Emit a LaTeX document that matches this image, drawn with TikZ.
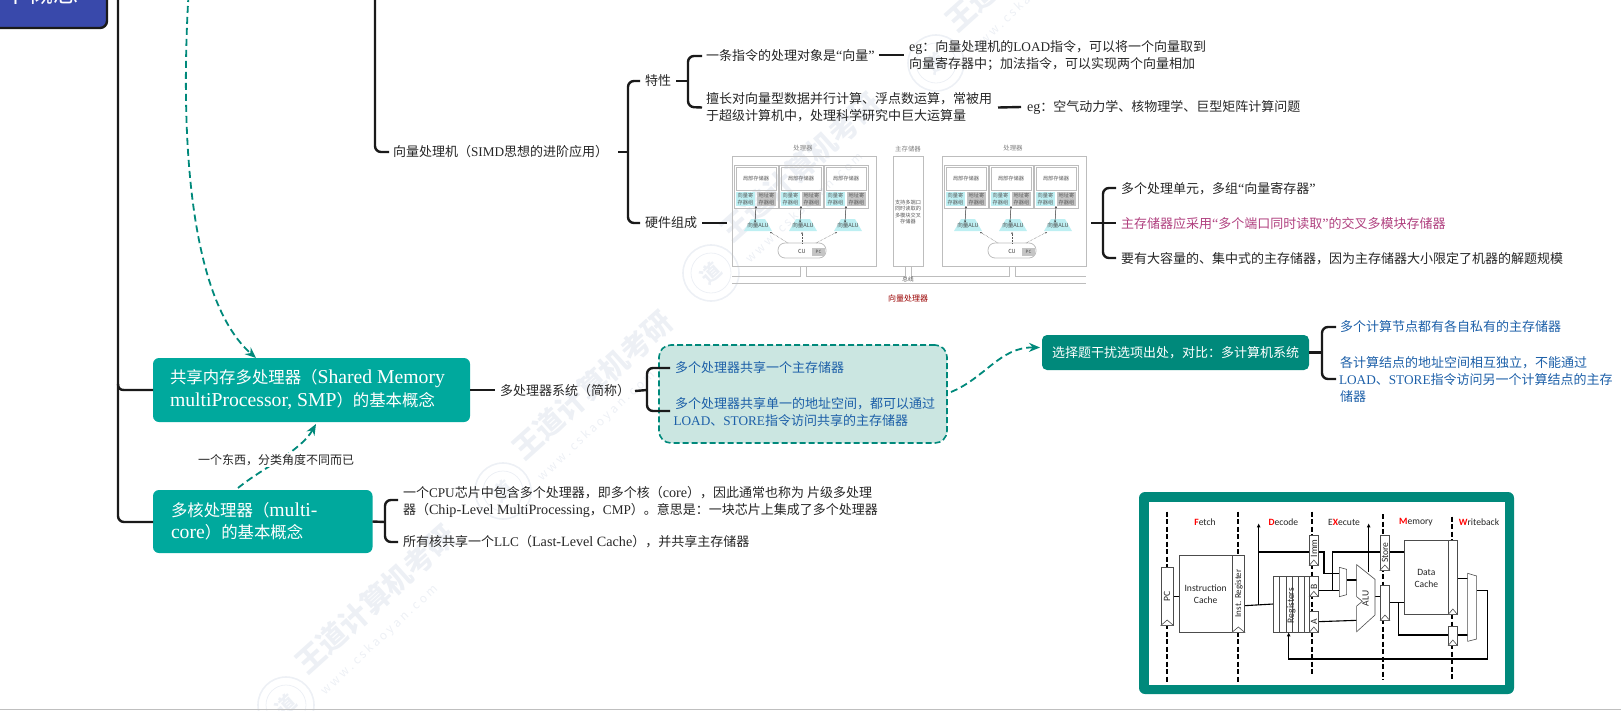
\documentclass[tikz,border=0pt]{standalone}
\usepackage{fontspec}
\usetikzlibrary{arrows.meta,calc}
\setmainfont{Noto Sans CJK SC}
\newfontfamily\latf[Scale=1.09]{Liberation Serif}
\newfontfamily\latbig[Scale=1.2]{Liberation Serif}
\newfontfamily\latcap[Scale=1.02]{Liberation Serif}
\newfontfamily\figf{Carlito}
\newcommand{\lat}[1]{{\latf #1}}
\newcommand{\latb}[1]{{\latbig #1}}
\newcommand{\latc}[1]{{\latcap #1}}
\definecolor{linek}{HTML}{1A1A1A}
\definecolor{tealA}{HTML}{00A99D}
\definecolor{tealB}{HTML}{00897B}
\definecolor{tealL}{HTML}{CBE6E1}
\definecolor{blueT}{HTML}{1C5FA8}
\definecolor{pinkT}{HTML}{B0407F}
\definecolor{navy}{HTML}{3949AB}
\definecolor{wm}{HTML}{EDF0F5}
\definecolor{cyanR}{HTML}{BDEFF2}
\definecolor{grayR}{HTML}{C4C4C4}
\definecolor{hw}{HTML}{BDBDBD}
\tikzset{
  every node/.style={inner sep=0pt,outer sep=0pt},
  branch/.style={draw=linek,line width=2.4pt,rounded corners=6pt},
  txt/.style={anchor=west,font=\fontsize{13}{17}\selectfont,text=black!85},
  btxt/.style={txt,text=blueT},
  stxt/.style={txt,font=\fontsize{16.4}{22}\selectfont,text=white},
  link/.style={draw=tealB,line width=1.8pt,dash pattern=on 7pt off 4pt,-{Stealth[length=11pt,width=9pt]}},
  wmark/.style={text=wm,rotate=42,font=\bfseries\fontsize{29}{29}\selectfont,anchor=west},
  wurl/.style={text=wm,rotate=43,font=\fontsize{12}{12}\selectfont,anchor=west},
  hwbox/.style={draw=hw,line width=0.8pt},
  hwt/.style={font=\fontsize{5.2}{6.6}\selectfont,text=black!65,align=center},
  hwlab/.style={font=\fontsize{6.4}{8}\selectfont,text=black!50},
  hwline/.style={draw=hw,line width=0.8pt},
  pipe/.style={draw=black,line width=1.1pt},
  pbox/.style={draw=black!70,line width=0.6pt,fill=white},
  stage/.style={draw=black,line width=2pt,dash pattern=on 5pt off 2.5pt},
  ftx/.style={font=\figf\fontsize{9.6}{11.5}\selectfont,align=center,text=black!85},
  arr/.style={pipe,-{Latex[length=4pt,width=4pt]}}
}
\newcommand{\wmk}[2]{%
  \node[wmark] at (#1,#2) {王道计算机考研};
  \node[wurl] at ($(#1,#2)+(23,26)$) {w w w . c s k a o y a n . c o m};
  \draw[wm,line width=1.6pt] ($(#1,#2)+(-14,38)$) circle (28);
  \draw[wm,line width=0.8pt] ($(#1,#2)+(-14,38)$) circle (20);
  \node[text=wm,font=\bfseries\fontsize{20}{20}\selectfont,rotate=42] at ($(#1,#2)+(-14,38)$) {道};
}
\newcommand{\unitx}[1]{%
  \begin{scope}[shift={(#1,0)}]
   \node[hwbox,minimum width=44,minimum height=43,anchor=north west] (u) at (734,165) {};
   \node[hwbox,minimum width=40,minimum height=23,anchor=north west,font=\fontsize{5.2}{6}\selectfont,text=black!65] (m) at (736,167) {局部存储器};
   \node[draw=none,fill=cyanR,minimum width=19,minimum height=14,anchor=north west,hwt] (r) at (736,192) {向量寄\\存器组};
   \node[draw=none,fill=grayR,minimum width=19,minimum height=14,anchor=north west,hwt] (g) at (757,192) {地址寄\\存器组};
   \path[fill=cyanR] (751,219)--(765,219)--(772,231)--(744,231)--cycle;
   \node[font=\fontsize{5.6}{6}\selectfont,text=black!70] (al) at (758,225) {向量ALU};
   \draw[black!80,line width=0.5pt,{Stealth[length=2pt,width=2pt]}-{Stealth[length=2pt,width=2pt]}] (r.south east) ++(1,0) -- (al.north -| r.south east);
  \end{scope}
}
\newcommand{\procx}[1]{%
  \begin{scope}[shift={(#1,0)}]
   \node[hwbox,minimum width=144,minimum height=110,anchor=north west] (pr) at (732,156) {};
   \node[hwlab] at (803,148) {处理器};
  \end{scope}
  \unitx{#1}\unitx{\numexpr#1+45\relax}\unitx{\numexpr#1+90\relax}
  \begin{scope}[shift={(#1,0)}]
   \draw[hwbox,rounded corners=7pt] (778,243) rectangle (826,258);
   \node[font=\fontsize{5.6}{6}\selectfont,text=black!75] at (802,251) {CU};
   \node[fill=grayR,minimum width=13,minimum height=8,font=\fontsize{4.4}{5}\selectfont,text=black!75] at (818.5,252) {PC};
   \draw[black!65,line width=0.5pt,densely dotted,-{Stealth[length=2pt,width=2pt]}] (788,243) -- (770,232);
   \draw[black!65,line width=0.5pt,densely dotted,-{Stealth[length=2pt,width=2pt]}] (802,243) -- (802,232);
   \draw[black!65,line width=0.5pt,densely dotted,-{Stealth[length=2pt,width=2pt]}] (816,243) -- (837,232);
  \end{scope}
}
\newcommand{\tri}[3]{\draw[pbox] (#1,#3) -- (#2/2+#1/2,#3-16) -- (#2,#3) -- cycle;}
\begin{document}
\begin{tikzpicture}[x=1pt,y=-1pt]
\useasboundingbox (0,0) rectangle (1621,710);
\clip (0,0) rectangle (1621,710);
% watermark
\wmk{300}{667}\wmk{517}{453}\wmk{725}{235}\wmk{950}{25}
% top-left topic
\node[draw=linek,line width=2.4pt,fill=navy,rounded corners=7pt,minimum width=140,minimum height=60,anchor=south east] (root) at (107,28) {};
\node[text=white,font=\fontsize{25}{25}\selectfont,anchor=base east] (roott) at (78,2) {本概念};
% main trunk
\coordinate (trunktop) at (118,-5);
\node[fill=tealA,rounded corners=6pt,minimum width=317,minimum height=64,anchor=north west] (smp) at (153,358) {};
\node[stxt] (smpa) at (170,379) {共享内存多处理器（\latb{Shared Memory}};
\node[stxt] (smpb) at (170,401) {\latb{multiProcessor, SMP}）的基本概念};
\node[fill=tealA,rounded corners=6pt,minimum width=219.5,minimum height=63,anchor=north west] (mc) at (153,490) {};
\node[stxt] (mca) at (171,510) {多核处理器（\latb{multi-}};
\node[stxt] (mcb) at (171,532) {\latb{core}）的基本概念};
\draw[branch] (trunktop) -- (118,522) -- (mc.west |- 0,522);
\draw[branch,rounded corners=0pt] (118,384) .. controls (118,388) and (120,390) .. (124,390) -- (smp.west |- 0,390);
% SIMD branch
\coordinate (stop) at (375,-5);
\node[txt] (vec) at (393,152) {向量处理机（\latc{SIMD}思想的进阶应用）};
\draw[branch] (stop) -- (375,152) -- ($(vec.west)+(-4,0)$);
\node[txt] (tx) at (645,81) {特性};
\node[txt] (hwn) at (645,223) {硬件组成};
\draw[branch] ($(vec.east)+(10,0)$) -- (628,152);
\draw[branch] ($(tx.west)+(-5,0)$) -- (628,81) -- (628,223) -- ($(hwn.west)+(-5,0)$);
\node[txt] (t1) at (706,56) {一条指令的处理对象是\lat{“}向量\lat{”}};
\node[txt,align=left] (t2) at (706,107.5) {擅长对向量型数据并行计算、浮点数运算，常被用\\于超级计算机中，处理科学研究中巨大运算量};
\draw[branch] ($(tx.east)+(5,0)$) -- (688,81);
\draw[branch] ($(t1.west)+(-4,0)$) -- (688,56) -- (688,107) -- ($(t2.west)+(-4,0)$);
\node[txt,align=left] (e1) at (909,56) {\lat{eg}：向量处理机的\latc{LOAD}指令，可以将一个向量取到\\向量寄存器中；加法指令，可以实现两个向量相加};
\node[txt] (e2) at (1027,108) {\lat{eg}：空气动力学、核物理学、巨型矩阵计算问题};
\draw[branch] ($(t1.east)+(4,-1)$) -- ($(e1.west)+(-5,-1)$);
\draw[branch] ($(t2.east)+(6,0)$) -- ($(e2.west)+(-6,-1)$);
% hardware figure
\procx{0}\procx{210}
\node[hwbox,minimum width=30,minimum height=110,anchor=north west,hwt] (mem) at (893,156) {};
\node[hwlab] at (908,149) {主存储器};
\node[hwt] at (908,212) {支持多端口\\同时读取的\\多模块交叉\\存储器};
\draw[hwline] (800,266) -- (800,276) -- (732,276);
\draw[hwline] (806,266) -- (806,276) -- (905,276) -- (905,266);
\draw[hwline] (911,266) -- (911,276) -- (1009,276) -- (1009,266);
\draw[hwline] (1015,266) -- (1015,276) -- (1086,276);
\draw[hwline] (732,283) -- (1086,283);
\node[fill=white,inner xsep=1pt,font=\fontsize{5.6}{6}\selectfont,text=black!70] at (908,279.5) {总线};
\node[font=\fontsize{8}{9}\selectfont,text=red!60!black] (vp) at (908,298) {向量处理器};
\draw[branch] ($(hwn.east)+(5,0)$) -- (727,223);
\coordinate (hwr) at (1091,223);
\node[txt] (h1) at (1121,189) {多个处理单元，多组\lat{“}向量寄存器\lat{”}};
\node[txt,text=pinkT] (h2) at (1121,224) {主存储器应采用\lat{“}多个端口同时读取\lat{”}的交叉多模块存储器};
\node[txt] (h3) at (1121,259) {要有大容量的、集中式的主存储器，因为主存储器大小限定了机器的解题规模};
\draw[branch] (hwr) -- ($(h2.west)+(-5,-1)$);
\draw[branch] ($(h1.west)+(-5,-1)$) -- (1103,188) -- (1103,258) -- ($(h3.west)+(-5,-1)$);
% SMP right
\draw[branch] (smp.east) -- (495,390);
\node[txt] (sn) at (500,391) {多处理器系统（简称）};
\node[draw=tealB,line width=1.6pt,dash pattern=on 6pt off 3pt,fill=tealL,rounded corners=12pt,minimum width=288,minimum height=98,anchor=north west] (dbox) at (659,345) {};
\draw[branch] ($(sn.east)+(5,0)$) -- (647,390);
\node[btxt] (d1) at (675,368) {多个处理器共享一个主存储器};
\node[btxt,align=left] (d2) at (673.5,412.5) {\hspace{1.5pt}多个处理器共享单一的地址空间，都可以通过\\\latc{LOAD}、\latc{STORE}指令访问共享的主存储器};
\draw[branch] (670,368) -- (647,368) -- (647,411) -- (670,411);
\node[fill=tealB,rounded corners=5pt,minimum width=267,minimum height=35,text=white,font=\fontsize{13}{15}\selectfont,anchor=north west] (cmp) at (1042,335) {选择题干扰选项出处，对比：多计算机系统};
\draw[link] (951,392) .. controls (985,378) and (1000,347) .. ($(cmp.west)+(-2,-5)$);
\node[btxt] (c1) at (1340,327) {多个计算节点都有各自私有的主存储器};
\node[btxt,align=left] (c2) at (1339,379.5) {\hspace{1pt}各计算结点的地址空间相互独立，不能通过\\\latc{LOAD}、\latc{STORE}指令访问另一个计算结点的主存\\\hspace{1pt}储器};
\draw[branch] (cmp.east) -- (1322,352.5);
\draw[branch] (1336,327) -- (1322,327) -- (1322,379) -- (1336,379);
% dashed relations
\draw[link] (188.5,-5) .. controls (180,140) and (190,300) .. (smp.north west -| 256,358);
\coordinate (mcout) at (238,488);
\coordinate (smpin) at (316,424);
\draw[link] (mcout) .. controls (262,468) and (300,452) .. (smpin);
\node[fill=white,inner ysep=1pt,font=\fontsize{12}{14}\selectfont,text=black!85] (rel) at (276,460) {一个东西，分类角度不同而已};
% multicore right
\draw[branch] (mc.east) -- (385,522);
\node[txt,align=left] (m1) at (403,501.5) {一个\latc{CPU}芯片中包含多个处理器，即多个核（\lat{core}），因此通常也称为 片级多处理\\器（\lat{Chip-Level MultiProcessing}，\latc{CMP}）。意思是：一块芯片上集成了多个处理器};
\node[txt] (m2) at (403,542) {所有核共享一个\latc{LLC}（\lat{Last-Level Cache}），并共享主存储器};
\draw[branch] (398,500) -- (385,500) -- (385,542) -- (398,542);
% pipeline figure
\node[fill=tealB,rounded corners=6pt,minimum width=375,minimum height=202,anchor=north west] (frame) at (1139,492) {};
\node[fill=white,minimum width=356,minimum height=183,anchor=north west] (inner) at (1149,502) {};
\begin{scope}[shift={(1130,490)},x=0.33333pt,y=-0.33333pt]
 \draw[stage] (110,65)--(110,575);
 \draw[stage] (324,65)--(324,575);
 \draw[stage] (546,65)--(546,560);
 \draw[stage] (760,72)--(760,568);
 \draw[stage] (965,80)--(965,568);
 \node[ftx] (lf) at (225,97) {\textbf{\textcolor{red}{F}}etch};
 \node[ftx] (ld) at (460,97) {\textbf{\textcolor{red}{D}}ecode};
 \node[ftx] (lx) at (642,97) {E\textbf{\textcolor{red}{X}}ecute};
 \node[ftx] (lm) at (858,97) {\textbf{\textcolor{red}{M}}emory};
 \node[ftx] (lw) at (1047,97) {\textbf{\textcolor{red}{W}}riteback};
 % wires
 \draw[pipe] (130,320)--(147,320);
 \draw[pipe] (344,347)--(430,342);
 \draw[arr] (386,345)--(386,100);
 \draw[pipe] (386,186)--(538,186);
 \draw[pipe] (565,186)--(582,186)--(582,250)--(628,250);
 \draw[pipe] (565,302)--(628,302);
 \draw[pipe] (608,302)--(608,186)--(822,186);
 \draw[pipe] (650,270)--(680,270);
 \draw[pipe] (565,395)--(680,391);
 \draw[arr] (716,245)--(716,100);
 \draw[pipe] (735,320)--(751,320);
 \draw[pipe] (779,338)--(822,338);
 \draw[pipe] (805,338)--(805,435)--(955,435);
 \draw[pipe] (982,265)--(1013,265);
 \draw[pipe] (982,435)--(1013,435);
 \draw[arr] (1040,302)--(1072,302)--(1072,507)--(476,507)--(476,427);
 % boxes
 \draw[pbox] (93,232) rectangle (130,406);
 \tri{93}{130}{406}
 \node[ftx,rotate=90] (pc) at (111,320) {PC};
 \draw[pbox] (147,196) rectangle (344,427);
 \draw[pbox] (306,196) -- (306,427);
 \tri{306}{344}{427}
 \node[ftx] (ic) at (227,312) {Instruction\\Cache};
 \node[ftx,rotate=90,font=\figf\fontsize{9}{10}\selectfont] (ir) at (326,310) {Inst. Register};
 \draw[pbox] (431,259) rectangle (538,427);
 \foreach \x in {449,468,486,504,522} {\draw[pbox] (\x,259)--(\x,427);}
 \node[ftx,rotate=90] (reg) at (484,347) {Registers};
 \draw[pbox] (538,135) rectangle (565,226); \tri{538}{565}{226}
 \node[ftx,rotate=90] (imm) at (552,175) {Imm};
 \draw[pbox] (538,259) rectangle (565,320); \tri{538}{565}{320}
 \node[ftx,rotate=90] (bb) at (552,290) {B};
 \draw[pbox] (538,365) rectangle (565,427); \tri{538}{565}{427}
 \node[ftx,rotate=90] (aa) at (552,395) {A};
 \draw[pbox] (628,232)--(650,238)--(650,314)--(628,320)--cycle;
 \draw[pbox] (680,224)--(735,268)--(735,375)--(680,425)--(680,348)--(697,334)--(680,320)--cycle;
 \node[ftx,rotate=90] (alu) at (707,325) {ALU};
 \draw[pbox] (750,135) rectangle (779,241); \tri{750}{779}{241}
 \node[ftx,rotate=90] (st) at (765,188) {Store};
 \draw[pbox] (751,285) rectangle (779,391); \tri{751}{779}{391}
 \draw[pbox] (822,152) rectangle (982,373);
 \draw[pbox] (955,152) -- (955,373);
 \tri{955}{982}{373}
 \node[ftx] (dc) at (889,265) {Data\\Cache};
 \draw[pbox] (955,408) rectangle (982,466); \tri{955}{982}{466}
 \draw[pbox] (1013,250)--(1040,258)--(1040,447)--(1013,454)--cycle;
\end{scope}
% page edge
\coordinate (el) at (0,709); \coordinate (er) at (1621,709);
\draw[black!25,line width=0.8pt] (el) -- (er);
\end{tikzpicture}
\end{document}
